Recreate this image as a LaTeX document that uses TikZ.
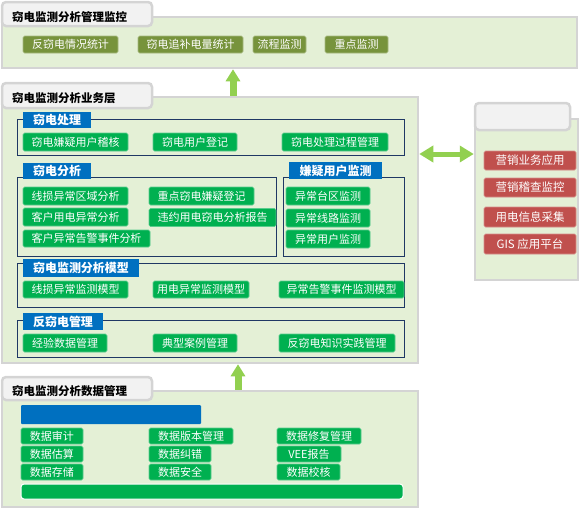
\documentclass[tikz,border=0pt]{standalone}
\usepackage{fontspec}
\setmainfont{Noto Sans CJK SC}
\usetikzlibrary{arrows.meta}

\definecolor{panelfill}{HTML}{E4F0D6}
\definecolor{panelgrey}{HTML}{D4D4D4}
\definecolor{tabfill}{HTML}{F2F2F2}
\definecolor{olive}{HTML}{77933C}
\definecolor{itemgreen}{HTML}{00B050}
\definecolor{tabblue}{HTML}{0070C0}
\definecolor{framenavy}{HTML}{1F3864}
\definecolor{itemred}{HTML}{C0504D}
\definecolor{arrowgreen}{HTML}{92D050}

\tikzset{
  panel/.style={draw=panelgrey,line width=2.5pt,fill=panelfill,inner sep=0},
  paneltab/.style={draw=panelgrey,line width=2.5pt,fill=tabfill,rounded corners=4pt,inner sep=0},
  paneltitle/.style={anchor=west,inner sep=0,font=\fontsize{11.5}{12}\selectfont\bfseries},
  item/.style={fill=#1,draw=#1!65!white,line width=0.6pt,rounded corners=1.5pt,
    text=white,inner sep=0,font=\fontsize{11}{12}\selectfont},
  item/.default=itemgreen,
  grouptab/.style={fill=tabblue,text=white,inner sep=0,font=\fontsize{12}{13}\selectfont\bfseries},
  groupframe/.style={draw=framenavy,line width=0.9pt,inner sep=0},
  bigup/.style={draw=arrowgreen,line width=7pt,-{Triangle[width=14pt,length=12pt]}},
  bigboth/.style={draw=arrowgreen,line width=5pt,
    {Triangle[width=16pt,length=14pt]}-{Triangle[width=16pt,length=14pt]}}
}

\begin{document}
\begin{tikzpicture}[x=1pt,y=-1pt]
\useasboundingbox (0,0) rectangle (579,509);

% management / monitoring layer
\node (body_top) at (289.5,42.5) [panel,minimum width=575pt,minimum height=51pt] {};
\node (tab_top) at (77,14) [paneltab,minimum width=150pt,minimum height=24pt] {};
\node (title_top) at (12,17) [paneltitle] {窃电监测分析管理监控};
\node (top_0) at (70.5,44.5) [item=olive,minimum width=95pt,minimum height=17pt] {反窃电情况统计};
\node (top_1) at (190.5,44.5) [item=olive,minimum width=105pt,minimum height=17pt] {窃电追补电量统计};
\node (top_2) at (279.5,44.5) [item=olive,minimum width=53pt,minimum height=17pt] {流程监测};
\node (top_3) at (356.5,44.5) [item=olive,minimum width=63pt,minimum height=17pt] {重点监测};

% business layer
\node (body_mid) at (210,230) [panel,minimum width=416pt,minimum height=266pt] {};
\node (tab_mid) at (77,95.5) [paneltab,minimum width=150pt,minimum height=25pt] {};
\node (title_mid) at (12,98) [paneltitle] {窃电监测分析业务层};

\node (frame_0) at (210.5,137) [groupframe,minimum width=387pt,minimum height=36pt] {};
\node (gtab_0) at (57,120) [grouptab,minimum width=68pt,minimum height=16pt] {窃电处理};
\node (mid_0) at (75.5,142) [item,minimum width=105pt,minimum height=18pt] {窃电嫌疑用户稽核};
\node (mid_1) at (195,142) [item,minimum width=84pt,minimum height=18pt] {窃电用户登记};
\node (mid_2) at (335,142) [item,minimum width=106pt,minimum height=18pt] {窃电处理过程管理};

\node (frame_1) at (146.5,216.5) [groupframe,minimum width=259pt,minimum height=79pt] {};
\node (gtab_1) at (57,171) [grouptab,minimum width=68pt,minimum height=16pt] {窃电分析};
\node (mid_3) at (75.5,196) [item,minimum width=105pt,minimum height=18pt] {线损异常区域分析};
\node (mid_4) at (201.5,196) [item,minimum width=105pt,minimum height=18pt] {重点窃电嫌疑登记};
\node (mid_5) at (75.5,217) [item,minimum width=105pt,minimum height=18pt] {客户用电异常分析};
\node (mid_6) at (212.5,217.5) [item,minimum width=127pt,minimum height=18pt] {违约用电窃电分析报告};
\node (mid_7) at (86.5,238.5) [item,minimum width=127pt,minimum height=17pt] {客户异常告警事件分析};

\node (frame_2) at (343.5,216.5) [groupframe,minimum width=121pt,minimum height=79pt] {};
\node (gtab_2) at (335.5,170.5) [grouptab,minimum width=93pt,minimum height=17pt] {嫌疑用户监测};
\node (mid_8) at (328,196) [item,minimum width=84pt,minimum height=18pt] {异常台区监测};
\node (mid_9) at (328,218) [item,minimum width=84pt,minimum height=18pt] {异常线路监测};
\node (mid_10) at (328,239) [item,minimum width=84pt,minimum height=18pt] {异常用户监测};

\node (frame_3) at (210.5,285) [groupframe,minimum width=387pt,minimum height=44pt] {};
\node (gtab_3) at (81,268) [grouptab,minimum width=116pt,minimum height=18pt] {窃电监测分析模型};
\node (mid_11) at (75.5,289.5) [item,minimum width=105pt,minimum height=17pt] {线损异常监测模型};
\node (mid_12) at (201,289.5) [item,minimum width=96pt,minimum height=17pt] {用电异常监测模型};
\node (mid_13) at (341.5,289.5) [item,minimum width=125pt,minimum height=17pt] {异常告警事件监测模型};

\node (frame_4) at (210.5,338.5) [groupframe,minimum width=387pt,minimum height=37pt] {};
\node (gtab_4) at (63,321.5) [grouptab,minimum width=80pt,minimum height=17pt] {反窃电管理};
\node (mid_14) at (65,343) [item,minimum width=84pt,minimum height=18pt] {经验数据管理};
\node (mid_15) at (195,343) [item,minimum width=84pt,minimum height=18pt] {典型案例管理};
\node (mid_16) at (337,343) [item,minimum width=116pt,minimum height=18pt] {反窃电知识实践管理};

% data layer
\node (body_low) at (210,449) [panel,minimum width=416pt,minimum height=116pt] {};
\node (tab_low) at (77,388.5) [paneltab,minimum width=150pt,minimum height=23pt] {};
\node (title_low) at (12,391) [paneltitle] {窃电监测分析数据管理};
\node (low_bar) at (111,414.5) [fill=tabblue,rounded corners=1pt,minimum width=180pt,minimum height=19pt,inner sep=0] {};
\node (low_0) at (52,436) [item,minimum width=62pt,minimum height=16pt] {数据审计};
\node (low_1) at (191,436) [item,minimum width=84pt,minimum height=16pt] {数据版本管理};
\node (low_2) at (319,436) [item,minimum width=84pt,minimum height=16pt] {数据修复管理};
\node (low_3) at (52,454) [item,minimum width=62pt,minimum height=16pt] {数据估算};
\node (low_4) at (180,454) [item,minimum width=62pt,minimum height=16pt] {数据纠错};
\node (low_5) at (309,454) [item,minimum width=64pt,minimum height=16pt] {VEE报告};
\node (low_6) at (52,472) [item,minimum width=62pt,minimum height=16pt] {数据存储};
\node (low_7) at (180,472) [item,minimum width=62pt,minimum height=16pt] {数据安全};
\node (low_8) at (308.5,472) [item,minimum width=63pt,minimum height=16pt] {数据校核};
\node (low_base) at (212,491.5) [fill=itemgreen,draw=white,line width=1pt,rounded corners=3pt,minimum width=382pt,minimum height=15pt,inner sep=0] {};

% external systems
\node (body_right) at (526.5,199.5) [panel,minimum width=103pt,minimum height=161pt] {};
\node (tab_right) at (522.5,116.5) [paneltab,minimum width=95pt,minimum height=27pt] {};
\node (ext_0) at (530,160.5) [item=itemred,minimum width=92pt,minimum height=19pt,font=\fontsize{11.5}{12}\selectfont] {营销业务应用};
\node (ext_1) at (530,187.5) [item=itemred,minimum width=92pt,minimum height=19pt,font=\fontsize{11.5}{12}\selectfont] {营销稽查监控};
\node (ext_2) at (530,217) [item=itemred,minimum width=92pt,minimum height=20pt,font=\fontsize{11.5}{12}\selectfont] {用电信息采集};
\node (ext_3) at (530,244) [item=itemred,minimum width=92pt,minimum height=20pt,font=\fontsize{11.5}{12}\selectfont] {GIS 应用平台};

% arrows
\coordinate (up_a) at (233,0);
\coordinate (up_b) at (238,0);
\coordinate (lr_a) at (0,154);
\draw [bigup] (body_mid.north -| up_a) -- (body_top.south -| up_a);
\draw [bigup] (body_low.north -| up_b) -- (body_mid.south -| up_b);
\draw [bigboth] (body_mid.east |- lr_a) -- (body_right.west |- lr_a);
\end{tikzpicture}
\end{document}
